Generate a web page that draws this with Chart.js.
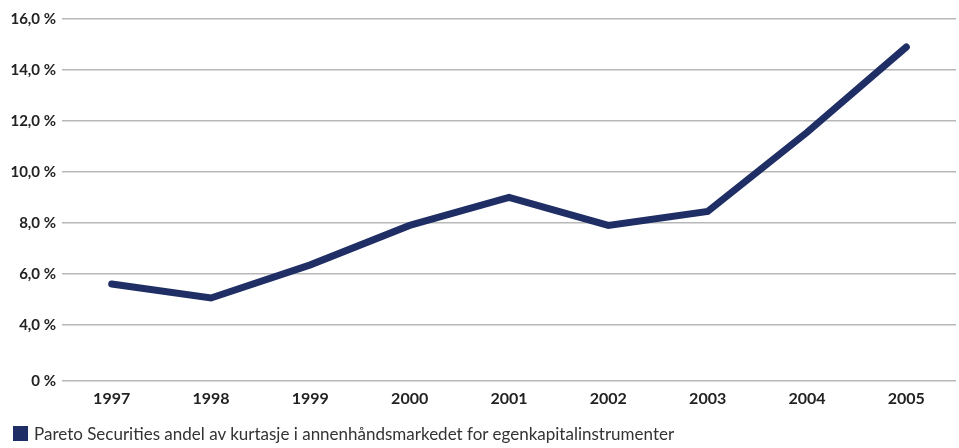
<!DOCTYPE html>
<html>
<head>
<meta charset="utf-8">
<script src="https://cdn.jsdelivr.net/npm/chart.js@4"></script>
<style>
  html, body { margin: 0; padding: 0; background: #fff; }
  #wrap { width: 959px; height: 448px; position: relative; }
  #legend {
    position: absolute; left: 13px; top: 423px;
    font: 17px Lato, sans-serif; color: #333;
    display: flex; align-items: center; white-space: nowrap;
  }
  #legend i { display: inline-block; width: 15px; height: 15px; margin-right: 6px; }
</style>
</head>
<body>
<div id="wrap"><canvas id="c"></canvas><div id="legend"></div></div>
<script>
const years = ['1997','1998','1999','2000','2001','2002','2003','2004','2005'];
const share = [5.6, 5.05, 6.35, 7.9, 9.0, 7.9, 8.45, 11.55, 14.9];
const yTicks = [1.8, 4, 6, 8, 10, 12, 14, 16];
const seriesName = 'Pareto Securities andel av kurtasje i annenhåndsmarkedet for egenkapitalinstrumenter';

const navy = '#1f2e64';

const chart = new Chart(document.getElementById('c'), {
  type: 'line',
  data: {
    labels: years,
    datasets: [{
      label: seriesName,
      data: share,
      borderColor: navy,
      backgroundColor: navy,
      borderWidth: 7,
      borderCapStyle: 'round',
      borderJoinStyle: 'miter',
      pointRadius: 0,
      tension: 0
    }]
  },
  options: {
    responsive: true,
    maintainAspectRatio: false,
    animation: false,
    layout: { padding: { top: 19, right: 3, bottom: 32, left: 0 } },
    scales: {
      x: {
        offset: true,
        grid: { display: false, drawTicks: false },
        border: { display: false },
        ticks: { color: '#222', font: { family: 'Lato', size: 16, weight: 'bold' }, padding: 8 }
      },
      y: {
        min: 1.8,
        max: 16,
        afterBuildTicks: s => { s.ticks = yTicks.map(v => ({ value: v })); },
        afterFit: s => { s.width = 62; },
        grid: { color: '#b8b8b8', lineWidth: 1.5, drawTicks: false },
        border: { display: false },
        ticks: {
          color: '#222',
          padding: 6,
          font: { family: 'Lato', size: 15, weight: 'bold' },
          callback: v => v < 2 ? '0 %' : v.toFixed(1).replace('.', ',') + ' %'
        }
      }
    },
    plugins: {
      legend: { display: false },
      tooltip: { enabled: false }
    }
  }
});

// legend built from the dataset
const ds = chart.data.datasets[0];
document.getElementById('legend').innerHTML =
  `<i style="background:${ds.borderColor}"></i><span>${ds.label}</span>`;
</script>
</body>
</html>
